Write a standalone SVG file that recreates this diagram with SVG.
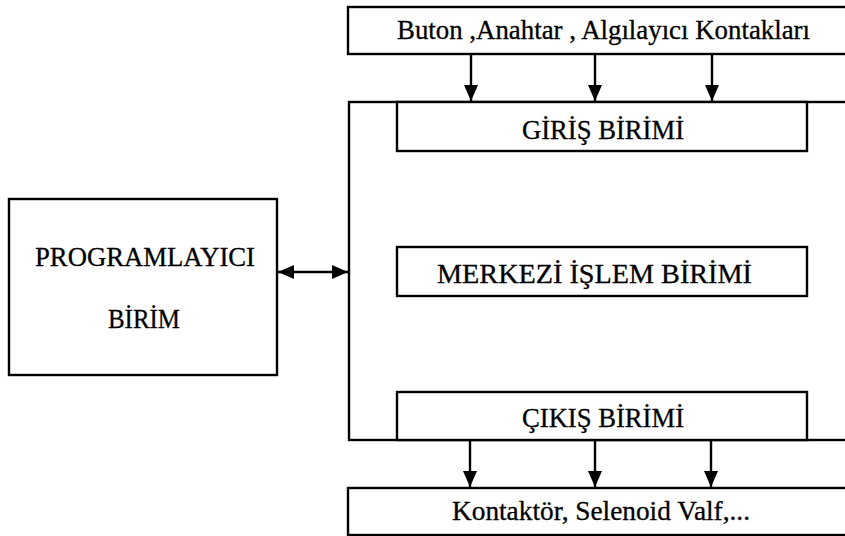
<svg xmlns="http://www.w3.org/2000/svg" width="845" height="536" viewBox="0 0 845 536">
  <style>
    .box { fill: #fff; stroke: #000; stroke-width: 2.4; }
    .lbl { font-family: "Liberation Serif", "Times New Roman", serif; font-size: 26.5px; fill: #000; stroke: #000; stroke-width: 0.3; text-anchor: middle; }
    .wire { stroke: #000; stroke-width: 2.4; fill: none; }
  </style>
  <defs>
    <marker id="head" viewBox="0 0 16 14" refX="16" refY="7" markerWidth="16" markerHeight="14" markerUnits="userSpaceOnUse" orient="auto-start-reverse">
      <path d="M0,0 L16,7 L0,14 Z" fill="#000"/>
    </marker>
  </defs>
  <rect width="845" height="536" fill="#fff"/>

  <!-- inputs: buttons, switches, sensors -->
  <g id="inputs">
    <rect class="box" x="348" y="7" width="510" height="47"/>
    <text class="lbl" x="603.5" y="39" textLength="413" lengthAdjust="spacingAndGlyphs">Buton ,Anahtar , Algılayıcı Kontakları</text>
  </g>

  <!-- PLC body -->
  <g id="plc">
    <rect class="box" x="349" y="102" width="510" height="338"/>
  </g>

  <g id="input-unit">
    <rect class="box" x="397" y="102" width="410" height="49"/>
    <text class="lbl" x="603" y="139" textLength="162" lengthAdjust="spacingAndGlyphs">GİRİŞ BİRİMİ</text>
  </g>

  <g id="cpu">
    <rect class="box" x="397" y="247" width="410" height="49"/>
    <text class="lbl" x="594.5" y="283" textLength="315" lengthAdjust="spacingAndGlyphs">MERKEZİ İŞLEM BİRİMİ</text>
  </g>

  <g id="output-unit">
    <rect class="box" x="397" y="392" width="410" height="48"/>
    <text class="lbl" x="603" y="427" textLength="162" lengthAdjust="spacingAndGlyphs">ÇIKIŞ BİRİMİ</text>
  </g>

  <!-- outputs: contactors, valves -->
  <g id="outputs">
    <rect class="box" x="348" y="488" width="510" height="47"/>
    <text class="lbl" x="601" y="520" textLength="298" lengthAdjust="spacingAndGlyphs">Kontaktör, Selenoid Valf,...</text>
  </g>

  <!-- programming unit -->
  <g id="programmer">
    <rect class="box" x="9" y="199" width="268" height="176"/>
    <text class="lbl" x="145" y="266" textLength="220" lengthAdjust="spacingAndGlyphs">PROGRAMLAYICI</text>
    <text class="lbl" x="144" y="328" textLength="72" lengthAdjust="spacingAndGlyphs">BİRİM</text>
  </g>

  <g id="connectors">
    <line class="wire" x1="471" y1="54" x2="471" y2="101" marker-end="url(#head)"/>
    <line class="wire" x1="595" y1="54" x2="595" y2="101" marker-end="url(#head)"/>
    <line class="wire" x1="712" y1="54" x2="712" y2="101" marker-end="url(#head)"/>
    <line class="wire" x1="470" y1="440" x2="470" y2="487" marker-end="url(#head)"/>
    <line class="wire" x1="595" y1="440" x2="595" y2="487" marker-end="url(#head)"/>
    <line class="wire" x1="711" y1="440" x2="711" y2="487" marker-end="url(#head)"/>
    <line class="wire" x1="278" y1="272" x2="348" y2="272" marker-start="url(#head)" marker-end="url(#head)"/>
  </g>
</svg>
